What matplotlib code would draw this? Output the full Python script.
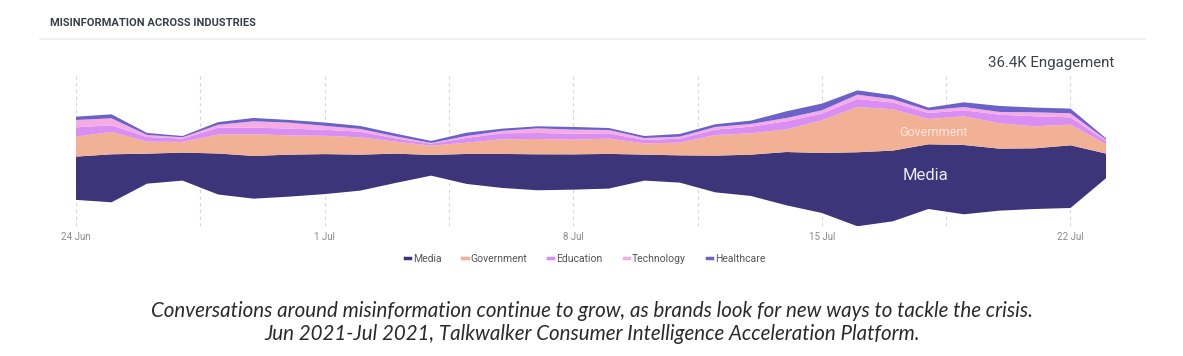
import matplotlib
matplotlib.use("Agg")
import matplotlib.pyplot as plt
from matplotlib.lines import Line2D
import numpy as np

# ---------------- data (daily engagement, relative units) ----------------
days = list(range(30))  # 24 Jun .. 23 Jul 2021
tick_days = [0, 7, 14, 21, 28]
tick_labels = ["24 Jun", "1 Jul", "8 Jul", "15 Jul", "22 Jul"]
series_names = ["Media", "Government", "Education", "Technology", "Healthcare"]

media = [43.3, 48, 30, 28, 41, 42.7, 42, 40, 36, 29.3,
         20.7, 30, 34, 36, 35.3, 34.7, 26, 27.3, 36.7, 41.3,
         53.3, 60, 74, 70.7, 64.7, 69.3, 62, 60.7, 62.7, 24.7]
government = [20, 22.3, 12, 10.7, 19, 21.7, 19.3, 18.3, 17.3, 12,
              9.3, 11.3, 14.7, 15.3, 14.7, 15.3, 11.3, 12.7, 20.7, 21.3,
              22.7, 32.7, 45.3, 41.3, 25.3, 28.7, 25.3, 22, 20.7, 9.3]
education = [9.3, 6.7, 4.7, 3.3, 6.7, 6.7, 6.7, 6, 5.7, 3.3,
             2, 4.7, 6, 6, 6, 5.3, 3.3, 4, 5.3, 6.7,
             8, 6.7, 8, 6.7, 6, 6, 8.7, 10, 7.3, 3.3]
technology = [7.3, 7, 2, 1.3, 3, 6.3, 6, 4, 2.7, 2,
              0.7, 2, 2.3, 4.7, 4, 3.3, 2, 2, 2.7, 2.7,
              3.3, 3.3, 4.3, 3.3, 2.7, 3.3, 2.7, 4, 4, 1.3]
healthcare = [3.3, 4, 2, 1.3, 2.7, 3.3, 2.7, 3.3, 3, 2.7,
              2, 3.3, 2.3, 2, 2.7, 2, 2, 2.7, 2.7, 3.3,
              6.7, 6.7, 4.3, 4, 2.7, 4.7, 6, 4.7, 4.7, 1.3]

colors = ["#3c3579", "#f2b195", "#d98ef3", "#f7abe4", "#6a62c8"]

# ---------------- figure ----------------
W, H = 1183, 356
fig = plt.figure(figsize=(W / 100, H / 100), dpi=100)
fig.patch.set_facecolor("white")

def fx(px):
    return px / W

def fy(py):
    return 1 - py / H

font = "Roboto"

# title + separator
fig.text(fx(50), fy(23), "MISINFORMATION ACROSS INDUSTRIES", fontsize=8,
         fontweight="bold", color="#3a3f47", family=font, va="center", ha="left")
fig.add_artist(Line2D([fx(40), fx(1145)], [fy(39), fy(39)], color="#eeeeee", lw=1.2))

# engagement total
fig.text(fx(988), fy(63), "36.4K Engagement", fontsize=10.8, color="#3d4148",
         family=font, va="center", ha="left")

# axes
top_px, bot_px, center_px = 75, 226, 158.3
ax = fig.add_axes([fx(76), fy(bot_px), fx(1106) - fx(76), (bot_px - top_px) / H])
ax.stackplot(days, media, government, education, technology, healthcare,
             baseline="sym", colors=colors, linewidth=0)
ax.set_xlim(0, 29)
ax.set_ylim(-(bot_px - center_px), center_px - top_px)
ax.set_xticks(tick_days)
ax.set_xticklabels(tick_labels, fontsize=7, color="#8a8a8a", family=font)
ax.set_xticks(np.arange(0, 29, 3.5), minor=True)
ax.tick_params(axis="x", which="both", length=0, pad=4)
ax.set_yticks([])
ax.grid(axis="x", which="both", color="#d6d6d6", linestyle=(0, (3, 3)), lw=0.8)
ax.set_axisbelow(True)
for s in ax.spines.values():
    s.set_visible(False)
ax.patch.set_alpha(0)

# in-chart labels
fig.text(fx(933.5), fy(132.7), "Government", fontsize=9, color="#fbe8de",
         family=font, ha="center", va="center")
fig.text(fx(925.5), fy(176), "Media", fontsize=12, color="#ebe9f5",
         family=font, ha="center", va="center")

# legend
handles = [Line2D([0], [0], color=c, lw=2.5) for c in colors]
leg = fig.legend(handles, series_names, loc="center",
                 bbox_to_anchor=(fx(585), fy(259)), ncol=5, frameon=False,
                 handlelength=0.5, handletextpad=0.3, columnspacing=2.0,
                 prop={"family": font, "size": 7.5})
for t in leg.get_texts():
    t.set_color("#555555")

# caption
cap_font = "Lato"
fig.text(fx(592), fy(311),
         "Conversations around misinformation continue to grow, as brands look for new ways to tackle the crisis.",
         fontsize=14.8, style="italic", fontweight="normal", color="#2a2a2a",
         family=cap_font, ha="center", va="center")
fig.text(fx(592), fy(334),
         "Jun 2021-Jul 2021, Talkwalker Consumer Intelligence Acceleration Platform.",
         fontsize=14.8, style="italic", fontweight="normal", color="#2a2a2a",
         family=cap_font, ha="center", va="center")

fig.savefig("out.png", dpi=100, facecolor="white")
